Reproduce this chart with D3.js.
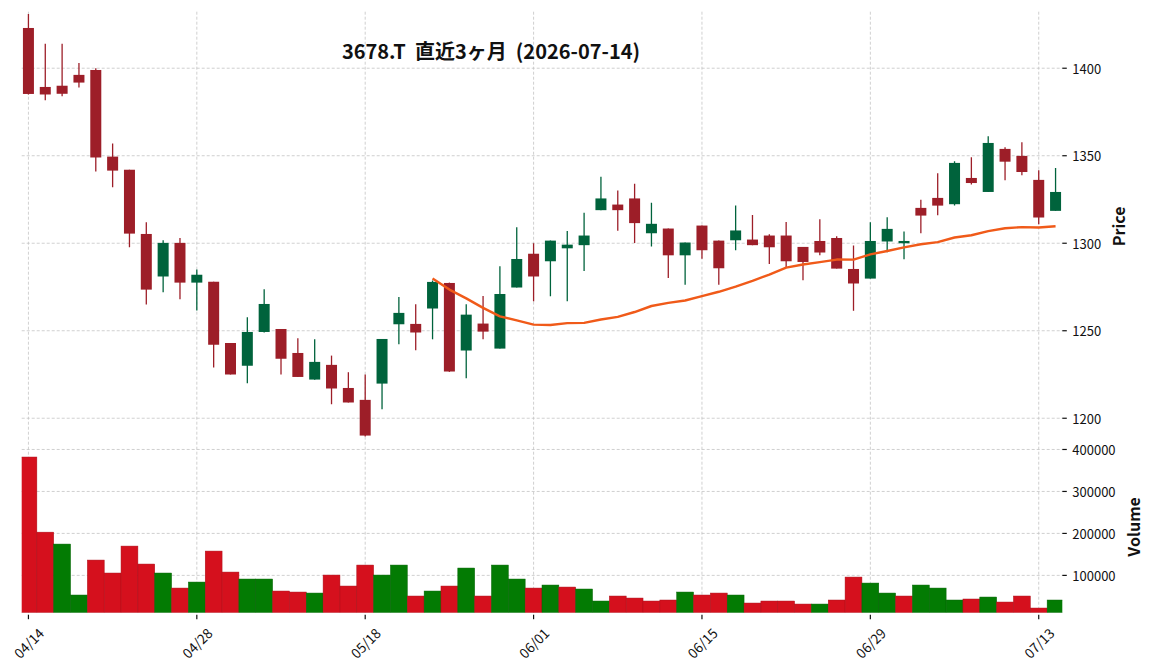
<!DOCTYPE html>
<html lang="ja">
  <head>
    <meta charset="utf-8" />
    <title>3678.T</title>
    <script src="https://d3js.org/d3.v7.min.js"></script>
    <style type="text/css">
        body { margin:0; background:#fff; }
        text { font-family:"Noto Sans CJK JP", "Noto Sans", sans-serif; fill:#111; }
    </style>
  </head>
  <body>
    <svg id="chart"></svg>
  </body>
  <script type="text/javascript">

    var w = 1152,
        h = 670;

    // trading days (2026)
    var dates = ['04/14','04/15','04/16','04/17','04/20','04/21','04/22','04/23','04/24','04/27',
                 '04/28','04/30','05/01','05/07','05/08','05/11','05/12','05/13','05/14','05/15',
                 '05/18','05/19','05/20','05/21','05/22','05/25','05/26','05/27','05/28','05/29',
                 '06/01','06/02','06/03','06/04','06/05','06/08','06/09','06/10','06/11','06/12',
                 '06/15','06/16','06/17','06/18','06/19','06/22','06/23','06/24','06/25','06/26',
                 '06/29','06/30','07/01','07/02','07/03','07/06','07/07','07/08','07/09','07/10',
                 '07/13','07/14'];

    var opens  = [1423, 1389.3, 1390, 1396.2, 1399, 1349.5, 1342, 1305.3, 1281, 1300.2,
                  1277.5, 1278, 1243, 1230, 1249.3, 1251, 1237.3, 1222.1, 1230.5, 1217.3,
                  1210.5, 1219.8, 1253.7, 1253.9, 1262.7, 1277.3, 1238.7, 1254.1, 1239.8, 1274.7,
                  1294, 1289.7, 1297.1, 1298.9, 1318.9, 1322.1, 1325.6, 1305.7, 1308.4, 1293.1,
                  1310.1, 1301.5, 1301.7, 1302.1, 1304.4, 1304.4, 1297.9, 1301.3, 1303, 1285.3,
                  1279.8, 1301, 1300, 1320.2, 1325.9, 1322.3, 1337.3, 1329.3, 1353.9, 1349.9,
                  1336.2, 1318.5];
    var highs  = [1431, 1414, 1414, 1403, 1400, 1357, 1342, 1312, 1301.7, 1303,
                  1285, 1278, 1243, 1257.7, 1273.7, 1251, 1245.7, 1245.1, 1235.8, 1226.3,
                  1225, 1245.3, 1269.3, 1265.1, 1278.7, 1277.5, 1265.1, 1269.9, 1286.9, 1309.1,
                  1300, 1301.5, 1307, 1317.4, 1338, 1330.2, 1334, 1323.1, 1308.4, 1300.4,
                  1310.1, 1301.5, 1321.6, 1316.2, 1305.2, 1312.2, 1297.9, 1313.7, 1304, 1298.7,
                  1312, 1314.8, 1306.7, 1324.9, 1340, 1346.8, 1349.1, 1361.1, 1354.8, 1357.7,
                  1341.7, 1343];
    var lows   = [1385, 1381.7, 1384, 1389, 1341, 1332, 1297.7, 1265, 1272, 1268,
                  1261.5, 1229, 1225, 1220, 1249, 1225, 1223.5, 1222, 1208, 1209,
                  1189.5, 1205.1, 1242.3, 1238.9, 1245.1, 1226.5, 1222.9, 1245.1, 1239.8, 1274.7,
                  1266.8, 1269.7, 1266.8, 1284.2, 1318.9, 1307.1, 1300.2, 1298.1, 1280.2, 1276.3,
                  1291.2, 1276.3, 1296, 1298.9, 1288.2, 1285.9, 1278.9, 1293.1, 1285.5, 1261.4,
                  1279.8, 1294.9, 1290.9, 1305.7, 1316, 1321.5, 1333.5, 1329.3, 1336, 1338.8,
                  1310.8, 1318.5];
    var closes = [1385.3, 1385, 1385.4, 1391.8, 1349, 1341.5, 1305.5, 1273.5, 1300.2, 1277.5,
                  1282, 1242, 1225, 1249.3, 1265.3, 1234, 1223.6, 1232.2, 1217, 1209,
                  1190.1, 1245.3, 1260.2, 1249, 1277.9, 1226.7, 1259.2, 1249.5, 1271, 1291,
                  1281, 1301.5, 1299.2, 1304.4, 1325.6, 1318.9, 1311.5, 1311.1, 1293.1, 1300.4,
                  1296, 1285.7, 1307.3, 1298.9, 1297.7, 1289.7, 1289.3, 1294.7, 1285.5, 1277,
                  1301.3, 1308.2, 1301.3, 1315.8, 1321.5, 1345.9, 1334.4, 1357.3, 1346.6, 1340.7,
                  1314.7, 1329.3];
    var volumes = [382000, 203000, 174600, 53200, 136500, 105600, 169800, 127000, 105600, 69800,
                   84100, 157900, 107900, 91300, 91300, 62700, 60300, 57900, 100800, 74600,
                   124600, 100800, 124600, 50800, 62700, 74600, 117500, 50800, 124600, 91300,
                   69800, 77000, 72200, 67500, 38900, 50800, 46000, 38900, 41300, 60300,
                   53200, 57900, 53200, 34100, 38900, 38900, 31700, 31700, 41300, 96000,
                   81700, 57900, 50800, 77000, 69800, 41300, 43700, 48400, 36500, 50800,
                   22200, 41300];

    var xTickIdx = [0, 10, 20, 30, 40, 50, 60];
    var priceTicks = [1200, 1250, 1300, 1350, 1400];
    var volTicks = [100000, 200000, 300000, 400000];
    var maWindow = 25;

    var left = 21.7, right = 1062.3,
        pTop = 11.7, pBottom = 441,
        vTop = 441, vBottom = 612.7;

    var colUp = '#00633c', colDown = '#9d1e28',
        volUp = '#037b03', volDown = '#d5101d',
        gridCol = '#c4c4c4';

    var svg = d3.select('#chart')
                .attr('width', w)
                .attr('height', h);

    svg.append('rect').attr('width', w).attr('height', h).attr('fill', '#fff');

    var xScale = d3.scaleLinear()
                   .domain([-0.4, dates.length - 0.6])
                   .range([left, right]);
    var step = xScale(1) - xScale(0);

    var yScale = d3.scaleLinear()
                   .domain([1187, 1432.3])
                   .range([pBottom, pTop]);

    var vScale = d3.scaleLinear()
                   .domain([0.5 * d3.min(volumes), 1.1 * d3.max(volumes)])
                   .range([vBottom, vTop]);

    var defs = svg.append('defs');
    defs.append('clipPath').attr('id', 'clipP')
        .append('rect').attr('x', left).attr('y', pTop)
        .attr('width', right - left).attr('height', pBottom - pTop);
    defs.append('clipPath').attr('id', 'clipV')
        .append('rect').attr('x', left).attr('y', vTop)
        .attr('width', right - left).attr('height', vBottom - vTop);

    // grid
    var grid = svg.append('g')
                  .attr('stroke', gridCol)
                  .attr('stroke-width', 0.8)
                  .attr('stroke-dasharray', '3,2');
    grid.selectAll('.vg')
        .data(xTickIdx)
        .enter()
        .append('line')
        .attr('x1', function(d) { return xScale(d); })
        .attr('x2', function(d) { return xScale(d); })
        .attr('y1', pTop)
        .attr('y2', vBottom);
    grid.selectAll('.pg')
        .data(priceTicks)
        .enter()
        .append('line')
        .attr('x1', left)
        .attr('x2', right)
        .attr('y1', function(d) { return yScale(d); })
        .attr('y2', function(d) { return yScale(d); });
    grid.selectAll('.vlg')
        .data(volTicks)
        .enter()
        .append('line')
        .attr('x1', left)
        .attr('x2', right)
        .attr('y1', function(d) { return vScale(d); })
        .attr('y2', function(d) { return vScale(d); });

    var idx = d3.range(dates.length);

    // volume bars, coloured by close vs previous close
    function volColor(i) {
        if (i === 0) return closes[0] >= opens[0] ? volUp : volDown;
        return closes[i] > closes[i - 1] ? volUp : volDown;
    }
    svg.append('g')
       .attr('clip-path', 'url(#clipV)')
       .selectAll('rect')
       .data(idx)
       .enter()
       .append('rect')
       .attr('x', function(i) { return xScale(i) - step / 2; })
       .attr('y', function(i) { return vScale(volumes[i]); })
       .attr('width', step)
       .attr('height', function(i) { return vBottom - vScale(volumes[i]); })
       .attr('fill', volColor)
       .attr('stroke', function(i) { return d3.color(volColor(i)).darker(0.6); })
       .attr('stroke-width', 0.5);

    // candles
    var cg = svg.append('g').attr('clip-path', 'url(#clipP)');
    function candleColor(i) { return closes[i] >= opens[i] ? colUp : colDown; }

    cg.selectAll('.wick')
      .data(idx)
      .enter()
      .append('line')
      .attr('x1', function(i) { return xScale(i); })
      .attr('x2', function(i) { return xScale(i); })
      .attr('y1', function(i) { return yScale(highs[i]); })
      .attr('y2', function(i) { return yScale(lows[i]); })
      .attr('stroke', candleColor)
      .attr('stroke-width', 1.3);

    var bodyW = 11;
    cg.selectAll('.body')
      .data(idx)
      .enter()
      .append('rect')
      .attr('x', function(i) { return xScale(i) - bodyW / 2; })
      .attr('y', function(i) { return yScale(Math.max(opens[i], closes[i])); })
      .attr('width', bodyW)
      .attr('height', function(i) {
          return Math.max(1, Math.abs(yScale(opens[i]) - yScale(closes[i])));
      })
      .attr('fill', candleColor);

    // 25-day moving average of closes
    var ma = idx.filter(function(i) { return i >= maWindow - 1; })
                .map(function(i) {
                    return [i, d3.mean(closes.slice(i - maWindow + 1, i + 1))];
                });
    cg.append('path')
      .datum(ma)
      .attr('fill', 'none')
      .attr('stroke', '#f05a19')
      .attr('stroke-width', 2.4)
      .attr('stroke-linejoin', 'round')
      .attr('d', d3.line()
                   .x(function(d) { return xScale(d[0]); })
                   .y(function(d) { return yScale(d[1]); }));

    // right axes
    function rightAxis(ticks, scale) {
        var g = svg.append('g');
        g.selectAll('line')
         .data(ticks)
         .enter()
         .append('line')
         .attr('x1', right)
         .attr('x2', right + 4.5)
         .attr('y1', function(d) { return scale(d); })
         .attr('y2', function(d) { return scale(d); })
         .attr('stroke', '#111')
         .attr('stroke-width', 1.2);
        g.selectAll('text')
         .data(ticks)
         .enter()
         .append('text')
         .attr('x', right + 10)
         .attr('y', function(d) { return scale(d); })
         .attr('dominant-baseline', 'central')
         .style('font-size', '13px')
         .text(function(d) { return d; });
    }
    rightAxis(priceTicks, yScale);
    rightAxis(volTicks, vScale);

    svg.append('text')
       .attr('transform', 'translate(1118,' + ((pTop + pBottom) / 2) + ') rotate(-90)')
       .attr('text-anchor', 'middle')
       .attr('dominant-baseline', 'central')
       .style('font-size', '16px')
       .style('font-weight', 'bold')
       .text('Price');
    svg.append('text')
       .attr('transform', 'translate(1133,' + ((vTop + vBottom) / 2) + ') rotate(-90)')
       .attr('text-anchor', 'middle')
       .attr('dominant-baseline', 'central')
       .style('font-size', '16px')
       .style('font-weight', 'bold')
       .text('Volume');

    // bottom axis
    var xg = svg.append('g');
    xg.selectAll('line')
      .data(xTickIdx)
      .enter()
      .append('line')
      .attr('x1', function(d) { return xScale(d); })
      .attr('x2', function(d) { return xScale(d); })
      .attr('y1', vBottom + 2)
      .attr('y2', vBottom + 6.5)
      .attr('stroke', '#111')
      .attr('stroke-width', 1.2);
    xg.selectAll('text')
      .data(xTickIdx)
      .enter()
      .append('text')
      .attr('transform', function(d) {
          return 'translate(' + xScale(d) + ',' + (vBottom + 30) + ') rotate(-45)';
      })
      .attr('text-anchor', 'middle')
      .attr('dominant-baseline', 'central')
      .style('font-size', '13.5px')
      .text(function(d) { return dates[d]; });

    // title
    svg.append('text')
       .attr('x', 491)
       .attr('y', 59)
       .attr('text-anchor', 'middle')
       .style('font-size', '20px')
       .style('font-weight', 'bold')
       .style('white-space', 'pre')
       .text('3678.T  直近3ヶ月  (2026-07-14)');
  </script>
</html>
